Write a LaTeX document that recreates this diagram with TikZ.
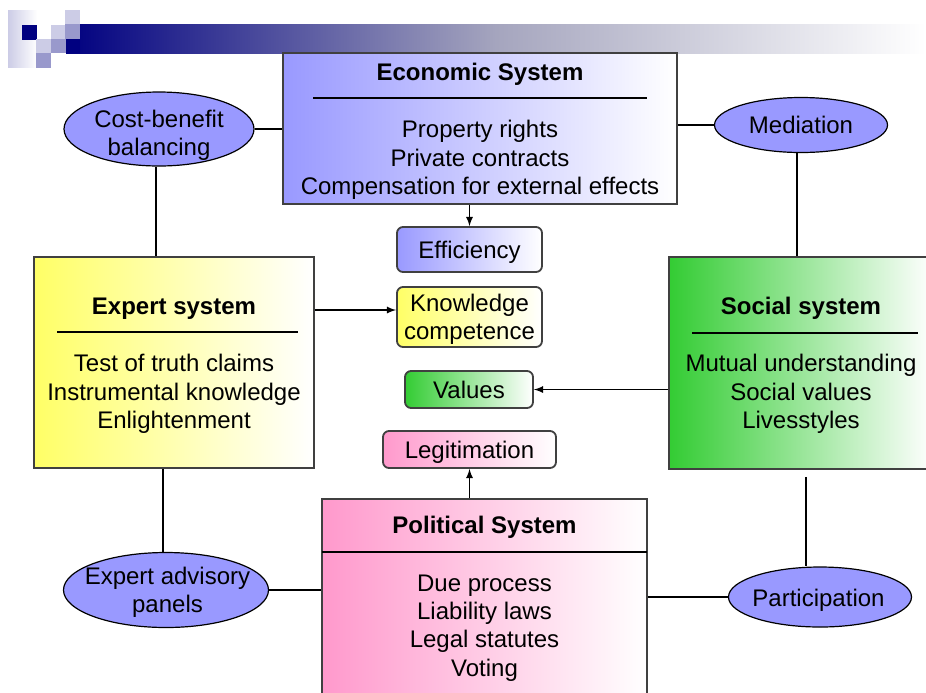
\documentclass[tikz,border=0pt]{standalone}
\usepackage{fontspec}
\setmainfont{Liberation Sans}
\usetikzlibrary{shapes.geometric}
\definecolor{ecoblue}{RGB}{153,153,255}
\definecolor{expyellow}{RGB}{255,255,102}
\definecolor{socgreen}{RGB}{51,204,51}
\definecolor{polpink}{RGB}{255,153,204}
\definecolor{framegray}{RGB}{64,64,64}
\definecolor{barnavy}{RGB}{0,0,128}
\definecolor{barmid}{RGB}{165,165,190}
\definecolor{tilelight}{RGB}{204,204,230}
\definecolor{tilemid}{RGB}{153,153,204}
\newcommand\sysfont{\fontsize{12}{14.2}\selectfont}

\begin{document}
\begin{tikzpicture}[x=0.5pt,y=-0.5pt,>=latex,
  every node/.append style={font=\sysfont},
  sysbox/.style={rectangle,draw=framegray,line width=0.9pt,right color=white},
  systitle/.style={font=\sysfont\bfseries,anchor=base,inner sep=0pt},
  sysbody/.style={align=center,inner sep=0pt},
  resbox/.style={rectangle,rounded corners=3pt,draw=framegray,line width=0.9pt,right color=white,align=center,inner sep=1pt,text depth=0pt},
  bubble/.style={ellipse,draw=black,line width=0.6pt,fill=ecoblue,inner sep=0pt},
  bubbletext/.style={align=center,inner sep=0pt},
  link/.style={line width=0.6pt}]
\path[use as bounding box] (0,0) rectangle (926,692);
\clip (0,0) rectangle (926,692);

\shade[left color=barnavy,right color=white,middle color=barmid] (66,24) rectangle (926,53);
\shade[left color=tilelight,right color=white] (8,10) rectangle (37,67);
\fill[barnavy] (22,25) rectangle (37,40);
\fill[tilelight] (36,39) rectangle (51,54);
\fill[tilemid] (36,53) rectangle (51,68);
\fill[tilelight] (51,25) rectangle (65,39);
\fill[tilemid] (51,39) rectangle (66,53);
\fill[tilelight] (65,10) rectangle (80,24);
\fill[tilemid] (65,24) rectangle (80,39);
\fill[barnavy] (66,39) rectangle (80,53);

\node[sysbox,left color=ecoblue,minimum width=197pt,minimum height=75.5pt] (eco) at (480,128.5) {};
\node[systitle] (ecoT) at (480,80) {Economic System};
\draw[link] (313,98) -- (647,98);
\node[sysbody] (ecoB) at (480,160) {Property rights\\Private contracts\\Compensation for external effects};

\node[sysbox,left color=expyellow,minimum width=140pt,minimum height=105.5pt] (exp) at (174,362.5) {};
\node[systitle] (expT) at (174,314) {Expert system};
\draw[link] (57,332) -- (298,332);
\node[sysbody] (expB) at (174,394) {Test of truth claims\\Instrumental knowledge\\Enlightenment};

\node[sysbox,left color=socgreen,minimum width=132pt,minimum height=106pt] (soc) at (801,363) {};
\node[systitle] (socT) at (801,314) {Social system};
\draw[link] (692,333) -- (918,333);
\node[sysbody] (socB) at (801,394) {Mutual understanding\\Social values\\Livesstyles};

\node[sysbox,left color=polpink,minimum width=162.5pt,minimum height=100.5pt] (pol) at (484.5,599.5) {};
\node[systitle] (polT) at (484.5,533) {Political System};
\draw[link] (322,552) -- (647,552);
\node[sysbody] (polB) at (484.5,628) {Due process\\Liability laws\\Legal statutes\\Voting};

\node[resbox,left color=ecoblue,minimum width=72.5pt,minimum height=22.5pt] (eff) at (469.5,249.5) {Efficiency};
\node[resbox,left color=expyellow,minimum width=72.5pt,minimum height=30pt] (know) at (469.5,317) {Knowledge\\competence};
\node[resbox,left color=socgreen,minimum width=64pt,minimum height=18.5pt] (val) at (469,389.5) {Values};
\node[resbox,left color=polpink,minimum width=86.5pt,minimum height=18.5pt] (leg) at (469.5,449.5) {Legitimation};

\node[bubble,minimum width=95pt,minimum height=37pt] (cost) at (159,129) {};
\node[bubbletext] (costT) at (159,135) {Cost-benefit\\balancing};
\node[bubble,minimum width=86.5pt,minimum height=27.5pt] (med) at (801,125) {};
\node[bubbletext] (medT) at (801,125) {Mediation};
\node[bubble,minimum width=102.5pt,minimum height=37.5pt] (adv) at (166,590) {};
\node[bubbletext] (advT) at (167.5,592.5) {Expert advisory\\panels};
\node[bubble,minimum width=91.5pt,minimum height=30pt] (part) at (820,597) {};
\node[bubbletext] (partT) at (818.5,600.5) {Participation};

\coordinate (knowIn) at ([yshift=3.5pt]know.west);
\coordinate (socOut) at ([xshift=2.5pt,yshift=-3.5pt]soc.south);
\coordinate (costOut) at ([xshift=-1.5pt]cost.south);
\coordinate (medOut) at ([xshift=-2pt]med.south);
\coordinate (advIn) at ([xshift=-1.5pt]adv.north);
\draw[link,->] (eco.south -| eff.north) -- (eff.north);
\draw[link,->] (exp.east |- knowIn) -- (knowIn);
\draw[link,->] (soc.west |- val.east) -- (val.east);
\draw[link,->] (pol.north -| leg.south) -- (leg.south);
\draw[link] (cost.east) -- (cost.east -| eco.west);
\draw[link] (costOut) -- (costOut |- exp.north);
\draw[link] (eco.east |- med.west) -- (med.west);
\draw[link] (medOut) -- (medOut |- soc.north);
\draw[link] (advIn |- exp.south) -- (advIn);
\draw[link] (adv.east) -- (adv.east -| pol.west);
\draw[link] (socOut) -- (socOut |- part.north);
\draw[link] (pol.east |- part.west) -- (part.west);
\end{tikzpicture}
\end{document}
